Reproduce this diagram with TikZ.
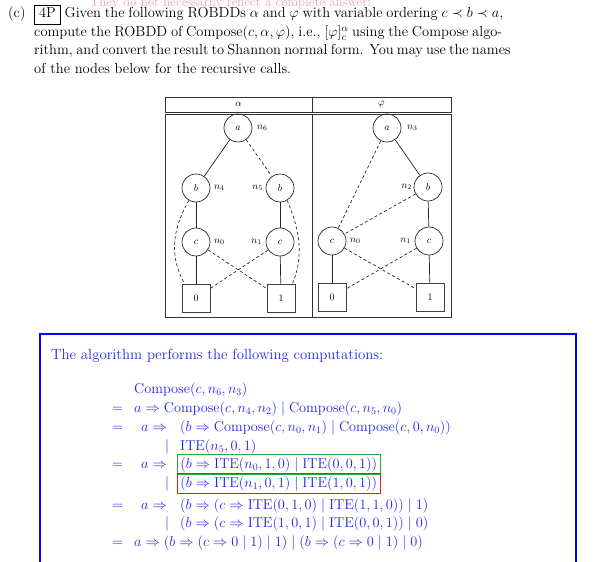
\documentclass[tikz,border=0pt]{standalone}
\usepackage{amsmath,amssymb}
\definecolor{sol}{RGB}{35,35,240}
\definecolor{wm}{RGB}{240,165,170}
\definecolor{grn}{RGB}{40,170,60}
\definecolor{rd}{RGB}{225,30,30}
\newcommand{\Cmp}{\mathrm{Compose}}
\newcommand{\Ite}{\mathrm{ITE}}
\begin{document}
\begin{tikzpicture}[x=1bp,y=-1bp,
  txt/.style={inner sep=0pt, anchor=base west, font=\fontsize{14.5bp}{19bp}\selectfont},
  soltxt/.style={txt, text=sol, font=\fontsize{14.8bp}{19bp}\selectfont},
  bddvar/.style={circle, draw=black!85, line width=0.7bp, minimum size=28bp, inner sep=0pt, font=\fontsize{10bp}{12bp}\selectfont},
  term/.style={rectangle, draw=black!75, line width=0.9bp, minimum size=28bp, inner sep=0pt, font=\fontsize{10bp}{12bp}\selectfont},
  lbl/.style={inner sep=0pt, font=\fontsize{10bp}{12bp}\selectfont},
  cell/.style={draw=black!80, line width=0.8bp, inner sep=0pt, font=\fontsize{10bp}{12bp}\selectfont},
  hi/.style={draw=black!85, line width=0.7bp},
  lo/.style={draw=black!85, line width=0.7bp, dash pattern=on 3bp off 2.5bp},
  framebox/.style={soltxt, inner xsep=3bp, inner ysep=2.5bp, line width=0.9bp},
]
\useasboundingbox (0,0) rectangle (597,562);
% watermark
\node[txt, text=wm, font=\fontsize{13bp}{15bp}\selectfont] (wm) at (90,7) {They do not necessarily reflect a complete answer!};
% task text
\setlength{\fboxsep}{2bp}
\node[txt] (lc) at (8,18) {(c)};
\node[txt] (p1) at (34,18) {\makebox[469bp][s]{\fbox{\hspace{2.5bp}\vphantom{(}4P\hspace{2.5bp}} Given the following ROBDDs $\alpha$ and $\varphi$ with variable ordering $c \prec b \prec a$,}};
\node[txt] (p2) at (34,37) {\makebox[468bp][s]{compute the ROBDD of Compose$(c,\alpha,\varphi)$, i.e., $[\varphi]^{\alpha}_{c}$ using the Compose algo-}};
\node[txt] (p3) at (34,55) {\makebox[468bp][s]{rithm, and convert the result to Shannon normal form. You may use the names}};
\node[txt] (p4) at (34,74) {of the nodes below for the recursive calls.};
% table
\node[cell, minimum width=147bp, minimum height=15bp] (hA) at (238.5,104.5) {$\alpha$};
\node[cell, minimum width=139bp, minimum height=15bp] (hP) at (381.5,104.5) {$\varphi$};
\node[cell, minimum width=147bp, minimum height=203bp] (bA) at (238.5,215.5) {};
\node[cell, minimum width=139bp, minimum height=203bp] (bP) at (381.5,215.5) {};
% alpha BDD
\node[bddvar] (a6) at (238,128) {$a$};
\node[bddvar] (b4) at (196,188) {$b$};
\node[bddvar] (b5) at (280,188) {$b$};
\node[bddvar] (c0) at (196,242) {$c$};
\node[bddvar] (c1) at (280,242) {$c$};
\node[term] (t0) at (196,298) {$0$};
\node[term] (t1) at (281,298) {$1$};
\node[lbl, anchor=west] (l6) at (257,128) {$n_6$};
\node[lbl, anchor=west] (l4) at (214,188) {$n_4$};
\node[lbl, anchor=east] (l5) at (263,188) {$n_5$};
\node[lbl, anchor=west] (l0) at (214,242) {$n_0$};
\node[lbl, anchor=east] (l1) at (262,242) {$n_1$};
\draw[hi] (a6) -- (b4);
\draw[lo] (a6) -- (b5);
\draw[hi] (b4) -- (c0);
\draw[lo] (b4.240) .. controls +(-16,28) and +(-16,-28) .. ([xshift=3bp]t0.north west);
\draw[hi] (b5) -- (c1);
\draw[lo] (b5.300) .. controls +(12,28) and +(12,-28) .. ([xshift=-3bp]t1.north east);
\draw[hi] (c0) -- (t0);
\draw[lo] (c0) -- (t1);
\draw[hi] (c1) -- (t1);
\draw[lo] (c1) -- (t0);
% phi BDD
\node[bddvar] (a3) at (387,128) {$a$};
\node[bddvar] (b2) at (428,187) {$b$};
\node[bddvar] (d0) at (332,241) {$c$};
\node[bddvar] (d1) at (429,241) {$c$};
\node[term] (f0) at (332,297) {$0$};
\node[term] (f1) at (430,297) {$1$};
\node[lbl, anchor=west] (k3) at (407,128) {$n_3$};
\node[lbl, anchor=east] (k2) at (412,187) {$n_2$};
\node[lbl, anchor=west] (k0) at (350,241) {$n_0$};
\node[lbl, anchor=east] (k1) at (411,241) {$n_1$};
\draw[hi] (a3) -- (b2);
\draw[lo] (a3) -- (d0);
\draw[lo] (b2) -- (d0);
\draw[hi] (b2) -- (d1);
\draw[hi] (d0) -- (f0);
\draw[lo] (d0) -- (f1);
\draw[hi] (d1) -- (f1);
\draw[lo] (d1) -- (f0);
% solution box
\draw[blue, line width=1.3bp] (40,562) -- (40,334) -- (576,334) -- (576,562);
\node[soltxt] (intro) at (51,359) {The algorithm performs the following computations:};
\node[soltxt] (m1) at (134,393) {$\Cmp(c, n_6, n_3)$};
\node[soltxt] (e2) at (112,412) {$=$};
\node[soltxt] (m2) at (134,412) {$a \Rightarrow \Cmp(c, n_4, n_2) \mid \Cmp(c, n_5, n_0)$};
\node[soltxt] (e3) at (112,431) {$=$};
\node[soltxt] (i3) at (141,431) {$a \Rightarrow$};
\node[soltxt] (m3) at (180,431) {$(b \Rightarrow \Cmp(c, n_0, n_1) \mid \Cmp(c, 0, n_0))$};
\node[soltxt] (v4) at (165,450) {$\mid$};
\node[soltxt] (m4) at (180,450) {$\Ite(n_5, 0, 1)$};
\node[soltxt] (e5) at (112,468) {$=$};
\node[soltxt] (i5) at (141,468) {$a \Rightarrow$};
\node[framebox, draw=grn] (m5) at (177,468) {$(b \Rightarrow \Ite(n_0, 1, 0) \mid \Ite(0, 0, 1))$};
\node[soltxt] (v6) at (165,487) {$\mid$};
\node[framebox, draw=rd] (m6) at (177,487) {$(b \Rightarrow \Ite(n_1, 0, 1) \mid \Ite(1, 0, 1))$};
\node[soltxt] (e7) at (112,509) {$=$};
\node[soltxt] (i7) at (141,509) {$a \Rightarrow$};
\node[soltxt] (m7) at (180,509) {$(b \Rightarrow (c \Rightarrow \Ite(0, 1, 0) \mid \Ite(1, 1, 0)) \mid 1)$};
\node[soltxt] (v8) at (165,527) {$\mid$};
\node[soltxt] (m8) at (180,527) {$(b \Rightarrow (c \Rightarrow \Ite(1, 0, 1) \mid \Ite(0, 0, 1)) \mid 0)$};
\node[soltxt] (e9) at (112,546) {$=$};
\node[soltxt] (m9) at (134,546) {$a \Rightarrow (b \Rightarrow (c \Rightarrow 0 \mid 1) \mid 1) \mid (b \Rightarrow (c \Rightarrow 0 \mid 1) \mid 0)$};
\end{tikzpicture}
\end{document}
